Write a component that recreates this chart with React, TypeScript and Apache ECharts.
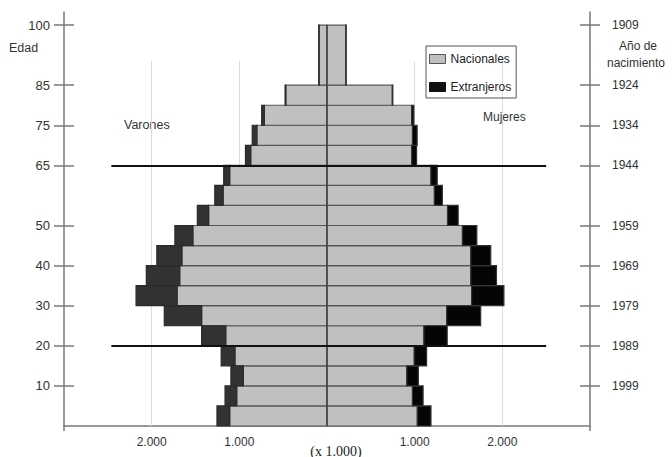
import React, { useEffect, useRef } from "react";
import * as echarts from "echarts";

// Age groups (years)
const ageStart = [0, 5, 10, 15, 20, 25, 30, 35, 40, 45, 50, 55, 60, 65, 70, 75, 80, 85];
const ageEnd = [5, 10, 15, 20, 25, 30, 35, 40, 45, 50, 55, 60, 65, 70, 75, 80, 85, 100];

// Population (thousands of persons)
const varonesNacionales = [1110, 1030, 955, 1050, 1155, 1430, 1710, 1680, 1655, 1530, 1350, 1185, 1110, 870, 800, 715, 470, 90];
const varonesExtranjeros = [145, 133, 141, 157, 275, 426, 468, 381, 286, 205, 129, 95, 68, 60, 53, 30, 8, 4];
const mujeresNacionales = [1030, 975, 910, 995, 1105, 1365, 1650, 1640, 1640, 1545, 1375, 1225, 1185, 965, 975, 965, 745, 215];
const mujeresExtranjeros = [156, 121, 132, 141, 266, 388, 368, 293, 228, 164, 121, 91, 72, 57, 53, 26, 6, 4];

// Axis ticks
const ageTicks = [10, 20, 30, 40, 50, 65, 75, 85, 100];
const birthYearLabels = ["1999", "1989", "1979", "1969", "1959", "1944", "1934", "1924", "1909"];
const xLabelValues = [-2000, -1000, 1000, 2000];
const xTickValues = [-3000, 3000];
const gridValues = [-2000, -1000, 1000, 2000];
const cutAges = [65, 20];

const SANS = "Liberation Sans, Arial, sans-serif";
const SERIF = "Liberation Serif, Times New Roman, serif";

export default function App() {
  const ref = useRef<HTMLDivElement>(null);

  useEffect(() => {
    if (!ref.current) return;
    const chart = echarts.init(ref.current, null, { renderer: "svg" });

    const data = ageStart.map((s, i) => [
      s,
      ageEnd[i],
      varonesNacionales[i],
      varonesExtranjeros[i],
      mujeresNacionales[i],
      mujeresExtranjeros[i],
    ]);

    const rectFrom = (api: any, xa: number, xb: number, ya: number, yb: number) => {
      const p1 = api.coord([Math.min(xa, xb), yb]);
      const p2 = api.coord([Math.max(xa, xb), ya]);
      return { x: p1[0], y: p1[1], width: p2[0] - p1[0], height: p2[1] - p1[1] };
    };

    const yAxisBase = {
      type: "value",
      min: 0,
      max: 103.25,
      splitLine: { show: false },
    };

    const option: any = {
      animation: false,
      backgroundColor: "#ffffff",
      grid: { left: 64, right: 82, top: 12, bottom: 31, containLabel: false, outerBoundsMode: "none" },
      legend: {
        orient: "vertical",
        left: 426,
        top: 46,
        padding: [7, 5, 5, 3],
        itemGap: 16,
        itemWidth: 16,
        itemHeight: 9,
        borderColor: "#555",
        borderWidth: 1,
        textStyle: { fontSize: 12, color: "#222", fontFamily: SANS },
        data: [
          { name: "Nacionales", icon: "rect", itemStyle: { color: "#c0c0c0", borderColor: "#555", borderWidth: 1 } },
          { name: "Extranjeros", icon: "rect", itemStyle: { color: "#111", borderColor: "#111", borderWidth: 1 } },
        ],
      },
      xAxis: {
        type: "value",
        min: -3000,
        max: 3000,
        axisLine: { show: true, lineStyle: { color: "#777", width: 1.5 } },
        axisTick: { show: true, length: 5, customValues: xTickValues, lineStyle: { color: "#777", width: 1.5 } },
        axisLabel: {
          customValues: xLabelValues,
          margin: 10,
          fontSize: 12,
          fontFamily: SANS,
          color: "#333",
          formatter: (v: number) => {
            const a = Math.abs(v);
            return a >= 1000 ? Math.floor(a / 1000) + "." + String(a % 1000).padStart(3, "0") : String(a);
          },
        },
        splitLine: { show: false },
      },
      yAxis: [
        {
          ...yAxisBase,
          position: "left",
          axisLine: { show: true, onZero: false, lineStyle: { color: "#777", width: 1.5 } },
          axisTick: { show: true, length: 10, customValues: ageTicks, lineStyle: { color: "#777", width: 1.5 } },
          axisLabel: { customValues: ageTicks, margin: 14, fontSize: 13, fontFamily: SANS, color: "#333" },
        },
        {
          ...yAxisBase,
          position: "left",
          axisLine: { show: false, onZero: false },
          axisTick: { show: true, inside: true, length: 10, customValues: ageTicks, lineStyle: { color: "#777", width: 1.5 } },
          axisLabel: { show: false },
        },
        {
          ...yAxisBase,
          position: "right",
          axisLine: { show: true, onZero: false, lineStyle: { color: "#777", width: 1.5 } },
          axisTick: { show: true, length: 10, customValues: ageTicks, lineStyle: { color: "#777", width: 1.5 } },
          axisLabel: {
            customValues: ageTicks,
            margin: 22,
            fontSize: 12,
            fontFamily: SANS,
            color: "#333",
            formatter: (v: number) => birthYearLabels[ageTicks.indexOf(v)] ?? "",
          },
        },
        {
          ...yAxisBase,
          position: "right",
          axisLine: { show: false, onZero: false },
          axisTick: { show: true, inside: true, length: 10, customValues: ageTicks, lineStyle: { color: "#777", width: 1.5 } },
          axisLabel: { show: false },
        },
      ],
      graphic: [
        { type: "text", left: 9, top: 41, style: { text: "Edad", fontSize: 12.5, fontFamily: SANS, fill: "#333" } },
        { type: "text", left: 124, top: 118, style: { text: "Varones", fontSize: 12.5, fontFamily: SANS, fill: "#333" } },
        { type: "text", left: 483, top: 111, style: { text: "Mujeres", fontSize: 12, fontFamily: SANS, fill: "#333" } },
        { type: "text", left: 619, top: 40, style: { text: "Año de", fontSize: 12, fontFamily: SANS, fill: "#333" } },
        { type: "text", left: 607, top: 57, style: { text: "nacimiento", fontSize: 12, fontFamily: SANS, fill: "#333" } },
        {
          type: "text",
          x: 336,
          y: 451,
          style: { text: "(x 1.000)", fontSize: 14, fontFamily: SERIF, fill: "#222", align: "center", verticalAlign: "middle" },
        },
      ],
      series: [
        {
          type: "custom",
          name: "Nacionales",
          yAxisIndex: 0,
          data,
          encode: { x: [2, 4], y: [0, 1] },
          itemStyle: { color: "#c0c0c0" },
          z: 3,
          renderItem: (params: any, api: any) => {
            const y0 = api.value(0);
            const y1 = api.value(1);
            const mn = api.value(2);
            const fn = api.value(4);
            const style = { fill: "#c0c0c0", stroke: "#555", lineWidth: 1.2 };
            return {
              type: "group",
              children: [
                { type: "rect", shape: rectFrom(api, -mn, 0, y0, y1), style },
                { type: "rect", shape: rectFrom(api, 0, fn, y0, y1), style },
              ],
            };
          },
          markLine: {
            silent: true,
            symbol: "none",
            label: { show: false },
            data: [
              ...gridValues.map((g) => [
                { coord: [g, 0], lineStyle: { color: "#dcdcdc", width: 1, type: "solid" } },
                { coord: [g, 91] },
              ]),
            ],
            z: 1,
          },
        },
        {
          type: "custom",
          name: "Extranjeros",
          yAxisIndex: 0,
          data,
          encode: { x: [3, 5], y: [0, 1] },
          itemStyle: { color: "#111" },
          z: 3,
          renderItem: (params: any, api: any) => {
            const y0 = api.value(0);
            const y1 = api.value(1);
            const mn = api.value(2);
            const me = api.value(3);
            const fn = api.value(4);
            const fe = api.value(5);
            return {
              type: "group",
              children: [
                {
                  type: "rect",
                  shape: rectFrom(api, -(mn + me), -mn, y0, y1),
                  style: { fill: "#323232", stroke: "#2a2a2a", lineWidth: 1.2 },
                },
                {
                  type: "rect",
                  shape: rectFrom(api, fn, fn + fe, y0, y1),
                  style: { fill: "#050505", stroke: "#333", lineWidth: 1.2 },
                },
              ],
            };
          },
          markLine: {
            silent: true,
            symbol: "none",
            label: { show: false },
            z: 5,
            data: [
              [
                { coord: [0, 0], lineStyle: { color: "#444", width: 1.5, type: "solid" } },
                { coord: [0, 100] },
              ],
              ...cutAges.map((a) => [
                { coord: [-2460, a], lineStyle: { color: "#111", width: 2, type: "solid" } },
                { coord: [2500, a] },
              ]),
            ],
          },
        },
      ],
    };

    chart.setOption(option);
    return () => chart.dispose();
  }, []);

  return (
    <div
      ref={ref}
      style={{ position: "fixed", left: 0, top: 0, width: 672, height: 457, background: "#fff" }}
    />
  );
}
